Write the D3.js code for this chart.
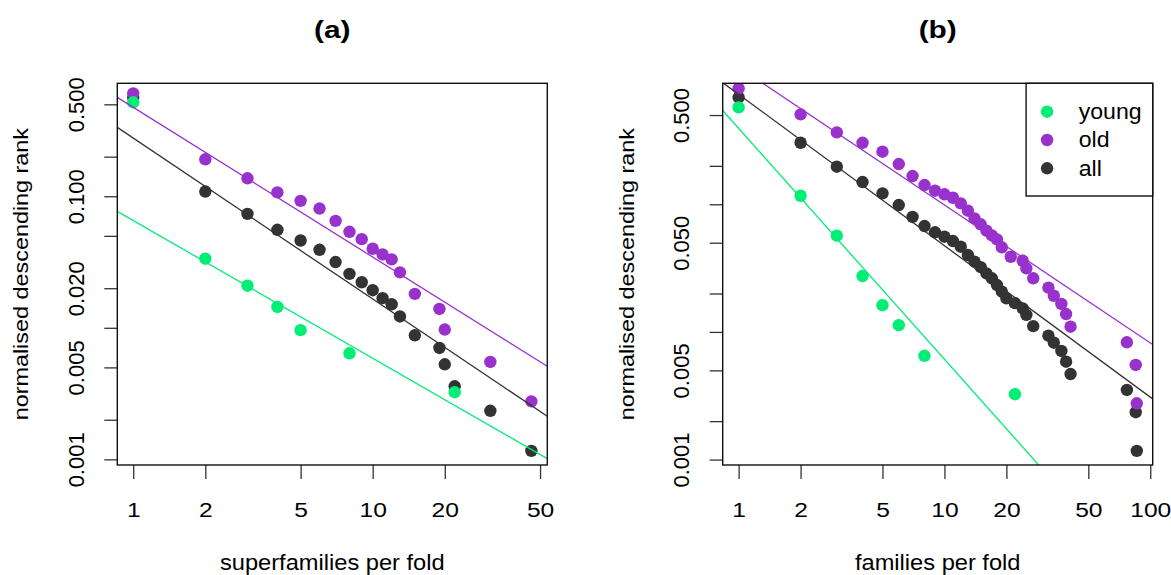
<!DOCTYPE html>
<html>
<head>
<meta charset="utf-8">
<script src="https://cdn.jsdelivr.net/npm/d3@7"></script>
<style>
  html, body { margin: 0; padding: 0; background: #fff; }
  svg text { font-family: "Liberation Sans", Arial, Helvetica, sans-serif; fill: #000; }
</style>
</head>
<body>
<svg id="chart" width="1171" height="575"></svg>
<script>
// ---- panel (a): superfamilies per fold ----
const sfYoungX = [1, 2, 3, 4, 5, 8, 22];
const sfYoungY = [0.518, 0.0335, 0.0209, 0.0144, 0.0096, 0.0064, 0.00324];
const sfOldX = [1, 2, 3, 4, 5, 6, 7, 8, 9, 10, 11, 12, 13, 15, 19, 20, 31, 46];
const sfOldY = [0.606, 0.191, 0.137, 0.107, 0.0923, 0.0807, 0.065, 0.0537, 0.0472,
  0.0399, 0.0361, 0.0331, 0.0264, 0.0181, 0.0139, 0.0097, 0.0055, 0.00276];
const sfAllX = [1, 2, 3, 4, 5, 6, 7, 8, 9, 10, 11, 12, 13, 15, 19, 20, 22, 31, 46];
const sfAllY = [0.564, 0.1086, 0.0735, 0.0556, 0.0461, 0.0392, 0.0316, 0.0257, 0.0222,
  0.0193, 0.0168, 0.0151, 0.0122, 0.00877, 0.00703, 0.00528, 0.00359, 0.00234, 0.00116];

// ---- panel (b): families per fold ----
const famYoungX = [1, 2, 3, 4, 5, 6, 8, 22];
const famYoungY = [0.574, 0.1166, 0.0567, 0.0274, 0.0162, 0.0113, 0.0065, 0.00325];
const famOldX = [1, 2, 3, 4, 5, 6, 7, 8, 9, 10, 11, 12, 13, 14, 15, 16, 17, 18, 19, 21,
  24, 25, 27, 32, 34, 37, 39, 41, 77, 85, 86];
const famOldY = [0.809, 0.506, 0.366, 0.303, 0.258, 0.2066, 0.1664, 0.1415, 0.1277, 0.1197,
  0.1125, 0.1017, 0.089, 0.0776, 0.0697, 0.0621, 0.057, 0.0531, 0.046, 0.0388,
  0.0361, 0.0315, 0.0263, 0.0222, 0.0192, 0.01656, 0.01381, 0.01099, 0.00829, 0.00551, 0.00276];
const famAllX = [1, 2, 3, 4, 5, 6, 7, 8, 9, 10, 11, 12, 13, 14, 15, 16, 17, 18, 19, 20,
  22, 24, 25, 27, 32, 34, 37, 39, 41, 77, 85, 86];
const famAllY = [0.687, 0.3034, 0.1968, 0.1493, 0.1218, 0.0986, 0.0795, 0.0675, 0.0603, 0.0557,
  0.0515, 0.0465, 0.0400, 0.0355, 0.0322, 0.0287, 0.0263, 0.0233, 0.0207, 0.0183,
  0.0168, 0.0153, 0.0136, 0.0111, 0.00934, 0.00823, 0.00709, 0.00584, 0.00468, 0.00351,
  0.00235, 0.00117];

// fitted power laws: log10(y) = intercept + slope * log10(x)
const sfFitIntercept = {young: -1.1845, old: -0.3237, all: -0.5575};
const sfFitSlope = {young: -1.0466, old: -1.1385, all: -1.2231};
const famFitIntercept = {young: -0.4051, old: 0.0748, all: -0.1388};
const famFitSlope = {young: -1.8093, old: -1.0804, all: -1.1858};

const seriesNames = ['young', 'old', 'all'];
const seriesColours = {young: '#00EE76', old: '#9932CC', all: '#333333'};

const sfXTicks = [1, 2, 5, 10, 20, 50];
const famXTicks = [1, 2, 5, 10, 20, 50, 100];
const yTicks = [0.001, 0.002, 0.005, 0.01, 0.02, 0.05, 0.1, 0.2, 0.5];
const sfYLabels = [0.001, 0.005, 0.02, 0.1, 0.5];
const famYLabels = [0.001, 0.005, 0.05, 0.5];

const svg = d3.select('#chart');
const plotTop = 83.3, plotBottom = 465, plotW = 430;

// R style log range: data extent widened by 4% on each side
function paddedLog(values) {
  const [lo, hi] = d3.extent(values).map(Math.log10), pad = (hi - lo) * 0.04;
  return [Math.pow(10, lo - pad), Math.pow(10, hi + pad)];
}

// text whose glyphs are widened along the text direction
function stretched(g, str, x, y, o) {
  return g.append('text').text(str)
    .attr('transform', 'translate(' + x + ',' + y + ')' +
      (o.rotate ? ' rotate(' + o.rotate + ')' : '') + ' scale(' + (o.sx || 1) + ',1)')
    .attr('font-size', o.size)
    .attr('font-weight', o.weight || 'normal')
    .attr('text-anchor', o.anchor || 'middle');
}

function drawPanel(p) {
  const left = p.left, right = left + plotW, cx = (left + right) / 2;
  const x = d3.scaleLog().domain(paddedLog(p.data.all[0])).range([left, right]);
  const y = d3.scaleLog().domain(paddedLog(p.data.all[1])).range([plotBottom, plotTop]);
  const g = svg.append('g').attr('class', 'panel-' + p.id);

  g.append('clipPath').attr('id', 'clip-' + p.id)
    .append('rect').attr('x', left).attr('y', plotTop)
    .attr('width', plotW).attr('height', plotBottom - plotTop);

  // points: all, then old, then young on top
  ['all', 'old', 'young'].forEach(name => {
    const [xs, ys] = p.data[name];
    g.append('g').attr('clip-path', 'url(#clip-' + p.id + ')')
      .selectAll('circle').data(xs).enter().append('circle')
      .attr('cx', d => x(d))
      .attr('cy', (d, i) => y(ys[i]))
      .attr('r', 6.2)
      .attr('fill', seriesColours[name]);
  });

  // fitted lines across the whole x range
  const line = d3.line().x(d => x(d[0])).y(d => y(d[1]));
  seriesNames.forEach(name => {
    const ends = x.domain().map(v =>
      [v, Math.pow(10, p.fitA[name] + p.fitB[name] * Math.log10(v))]);
    g.append('path').attr('clip-path', 'url(#clip-' + p.id + ')')
      .attr('d', line(ends))
      .attr('fill', 'none')
      .attr('stroke', seriesColours[name])
      .attr('stroke-width', 1.3);
  });

  // x axis
  const xAxis = g.append('g').attr('transform', 'translate(0,' + plotBottom + ')')
    .call(d3.axisBottom(x).tickValues(p.xTicks).tickSize(14).tickFormat(d3.format('~g')));
  xAxis.select('.domain').remove();
  xAxis.selectAll('.tick line').attr('stroke', '#333').attr('stroke-width', 1.3);
  xAxis.selectAll('.tick text')
    .attr('y', null).attr('dy', null)
    .attr('transform', 'translate(0,51.5) scale(1.2,1)')
    .attr('font-size', 20.5).attr('font-family', null).attr('fill', '#000');

  // y axis
  const fmt = d3.format('.3f');
  const yAxis = g.append('g').attr('transform', 'translate(' + left + ',0)')
    .call(d3.axisLeft(y).tickValues(yTicks).tickSize(13)
      .tickFormat(d => p.yLabels.indexOf(d) >= 0 ? fmt(d) : ''));
  yAxis.select('.domain').remove();
  yAxis.selectAll('.tick line').attr('stroke', '#333').attr('stroke-width', 1.3);
  yAxis.selectAll('.tick text')
    .attr('x', null).attr('dy', null)
    .attr('transform', 'translate(-33.5,0) rotate(-90)')
    .attr('text-anchor', 'middle')
    .attr('font-size', 22).attr('font-family', null).attr('fill', '#000');

  // frame
  g.append('rect').attr('x', left).attr('y', plotTop)
    .attr('width', plotW).attr('height', plotBottom - plotTop)
    .attr('fill', 'none').attr('stroke', '#111').attr('stroke-width', 1.4);

  // titles
  stretched(g, p.title, cx, 37.5, {size: 23, sx: 1.3, weight: 'bold'});
  stretched(g, p.xTitle, cx, 570, {size: 21.5, sx: 1.1});
  stretched(g, 'normalised descending rank', left - 89, (plotTop + plotBottom) / 2,
    {size: 19.5, sx: 1.2, rotate: -90});

  return {x, y, g, left, right};
}

drawPanel({
  id: 'a', left: 117.3, title: '(a)', xTitle: 'superfamilies per fold',
  data: {young: [sfYoungX, sfYoungY], old: [sfOldX, sfOldY], all: [sfAllX, sfAllY]},
  fitA: sfFitIntercept, fitB: sfFitSlope,
  xTicks: sfXTicks, yLabels: sfYLabels
});

const panelB = drawPanel({
  id: 'b', left: 722.7, title: '(b)', xTitle: 'families per fold',
  data: {young: [famYoungX, famYoungY], old: [famOldX, famOldY], all: [famAllX, famAllY]},
  fitA: famFitIntercept, fitB: famFitSlope,
  xTicks: famXTicks, yLabels: famYLabels
});

// legend, top right of panel (b)
const legW = 126.6, legH = 112.7, rowH = 28.3;
const legend = panelB.g.append('g')
  .attr('transform', 'translate(' + (panelB.right - legW) + ',' + plotTop + ')');
legend.append('rect').attr('width', legW).attr('height', legH)
  .attr('fill', '#fff').attr('stroke', '#111').attr('stroke-width', 1.4);
const rows = legend.selectAll('.row').data(seriesNames).enter().append('g')
  .attr('class', 'row')
  .attr('transform', (d, i) => 'translate(0,' + (28.4 + i * rowH) + ')');
rows.append('circle').attr('cx', 21).attr('r', 6.2).attr('fill', d => seriesColours[d]);
rows.each(function(d) {
  stretched(d3.select(this), d, 52.6, 7.3, {size: 22, sx: 1.05, anchor: 'start'});
});
</script>
</body>
</html>
